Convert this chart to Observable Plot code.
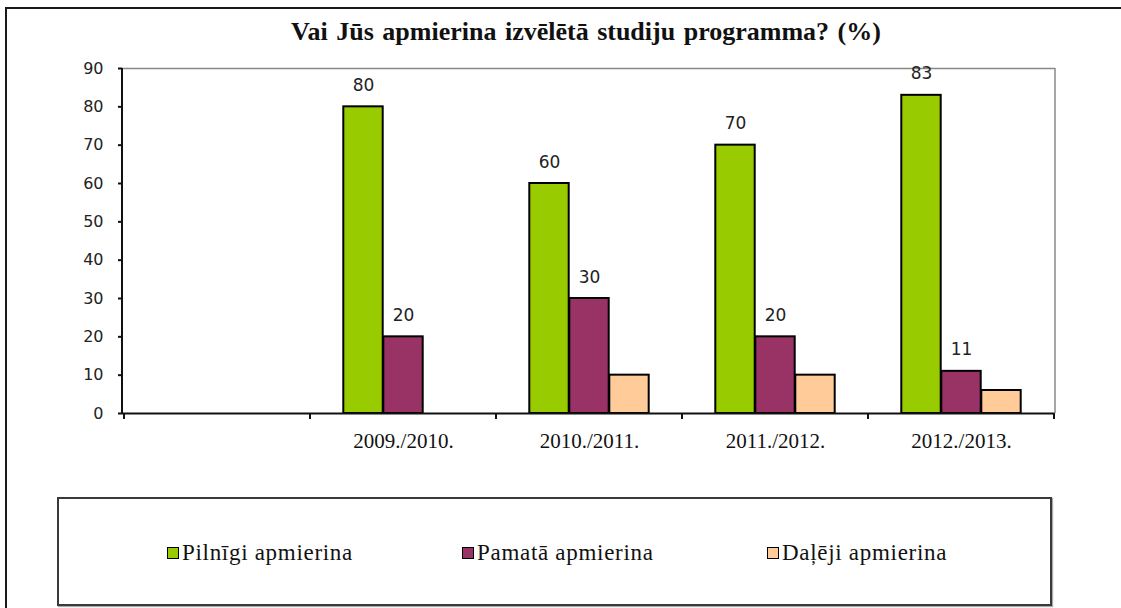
<!DOCTYPE html>
<html>
<head>
<meta charset="utf-8">
<script src="https://cdn.jsdelivr.net/npm/d3@7"></script>
<script src="https://cdn.jsdelivr.net/npm/@observablehq/plot@0.6"></script>
<style>
  html, body { margin: 0; padding: 0; background: #fff; }
  body { width: 1121px; height: 608px; overflow: hidden; position: relative; }
  #frame { position: absolute; left: 5px; top: 7px; width: 1200px; height: 700px; border: 2px solid #1a1a1a; }
  #title { position: absolute; left: 0; width: 1172px; top: 20px; text-align: center;
           font-family: "Liberation Serif", serif; font-weight: bold; font-size: 26px;
           line-height: 24px; word-spacing: 2px; color: #111; }
  #chart { position: absolute; left: 0; top: 0; }
  #legend { position: absolute; left: 57px; top: 497px; width: 991px; height: 105px;
            border: 2px solid #3a3a3a; box-shadow: 1px 1px 1px #aaa; background: #fff; }
  .item { position: absolute; top: 41px; height: 26px; display: flex; align-items: center;
          font-family: "Liberation Serif", serif; font-size: 23px; letter-spacing: 0.7px;
          color: #111; white-space: nowrap; }
  .sw { width: 10px; height: 10px; border: 1.5px solid #000; margin-right: 3px; flex: none; }
</style>
</head>
<body>
<div id="frame"></div>
<div id="title">Vai Jūs apmierina izvēlētā studiju programma? (%)</div>
<div id="chart"></div>
<div id="legend"></div>
<script>
// ---- data ----
const seasons = ["", "2009./2010.", "2010./2011.", "2011./2012.", "2012./2013."];
const seriesNames = ["Pilnīgi apmierina", "Pamatā apmierina", "Daļēji apmierina"];
const seriesColors = ["#99cc00", "#993366", "#ffcc99"];
const pilnigi = [null, 80, 60, 70, 83];
const pamata  = [null, 20, 30, 20, 11];
const daleji  = [null, null, 10, 10, 6];
const yTicks = [0, 10, 20, 30, 40, 50, 60, 70, 80, 90];
const labelled = [true, true, false];

// ---- layout ----
const W = 1121, H = 460;
const mL = 122, mR = 66, mT = 68, mB = 47;
const barW = 40;
const bandW = (W - mL - mR) / seasons.length;
const inset = (bandW - barW) / 2;

const seriesValues = [pilnigi, pamata, daleji];
const rows = seriesValues.map((vals, s) =>
  seasons.map((c, i) => ({season: c, value: vals[i], series: seriesNames[s]}))
         .filter(d => d.value != null));

function plotFrame(index, scales, values, dims) {
  const x = scales.x, y = scales.y;
  const dom = x.domain();
  const bw = typeof x.bandwidth === "function" ? x.bandwidth()
           : (dims.width - dims.marginLeft - dims.marginRight) / dom.length;
  const left = dims.marginLeft, right = dims.width - dims.marginRight;
  const y0 = y(0), yTop = y(yTicks[yTicks.length - 1]);
  const g = d3.create("svg:g");
  g.append("line").attr("x1", right).attr("x2", right).attr("y1", yTop).attr("y2", y0)
    .attr("stroke", "#888").attr("stroke-width", 1.5);
  g.append("line").attr("x1", left).attr("x2", left).attr("y1", yTop).attr("y2", y0)
    .attr("stroke", "#111").attr("stroke-width", 2);
  const edges = dom.map(c => x(c)).concat([x(dom[dom.length - 1]) + bw]);
  g.selectAll("line.t").data(edges).join("line").attr("class", "t")
    .attr("x1", d => d).attr("x2", d => d).attr("y1", y0).attr("y2", y0 + 6)
    .attr("stroke", "#111").attr("stroke-width", 2);
  return g.node();
}

const marks = [
  Plot.ruleY([yTicks[yTicks.length - 1]], {stroke: "#888", strokeWidth: 1.5}),
  ...rows.map((r, s) => Plot.barY(r, {
    x: "season", y: "value", fill: seriesColors[s], stroke: "#000", strokeWidth: 2,
    insetLeft: inset, insetRight: inset, dx: (s - 1) * barW
  })),
  ...rows.map((r, s) => labelled[s] ? Plot.text(r, {
    x: "season", y: "value", text: d => String(d.value), dx: (s - 1) * barW, dy: -16,
    lineAnchor: "bottom", fontSize: 17, fontFamily: "DejaVu Sans", fill: "#222"
  }) : null).filter(Boolean),
  Plot.ruleY([0], {stroke: "#111", strokeWidth: 2}),
  plotFrame,
  Plot.axisY(yTicks, {tickSize: 4, tickPadding: 15, fontSize: 16, fontFamily: "DejaVu Sans",
    stroke: "#111", strokeWidth: 2, fill: "#222", label: null}),
  Plot.axisX({tickSize: 0, tickPadding: 20, fontSize: 21, fontFamily: "Liberation Serif",
    fill: "#111", label: null})
];

const chart = Plot.plot({
  width: W, height: H,
  marginLeft: mL, marginRight: mR, marginTop: mT, marginBottom: mB,
  style: {background: "transparent", overflow: "visible"},
  x: {type: "band", domain: seasons, padding: 0},
  y: {domain: [0, 90]},
  marks
});
document.getElementById("chart").appendChild(chart);

// ---- legend ----
const legendX = [108, 403, 708];
const legend = document.getElementById("legend");
seriesNames.forEach((name, i) => {
  const it = document.createElement("div");
  it.className = "item";
  it.style.left = legendX[i] + "px";
  const sw = document.createElement("span");
  sw.className = "sw";
  sw.style.background = seriesColors[i];
  it.appendChild(sw);
  it.appendChild(document.createTextNode(name));
  legend.appendChild(it);
});
</script>
</body>
</html>
